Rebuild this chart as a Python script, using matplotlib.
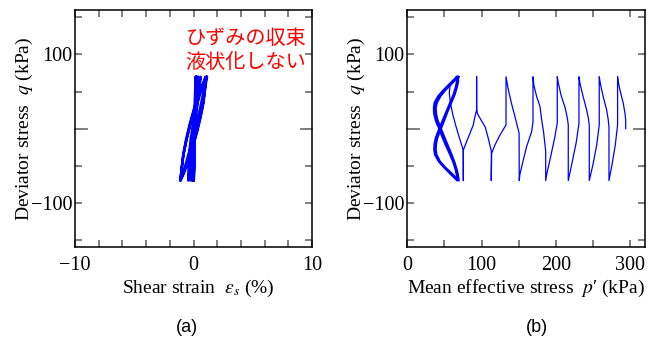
import numpy as np
import matplotlib.pyplot as plt

plt.rcParams['font.family'] = ['Liberation Serif', 'DejaVu Serif']
plt.rcParams['mathtext.fontset'] = 'stix'

# ---- panel (a): shear strain (%) vs deviator stress (kPa)
eps_a = [0.0, 0.1, 0.18,
         0.12, 0.03, 0.1, 0.2,
         0.14, 0.02, 0.1, 0.22,
         0.14, 0.0, 0.1, 0.25,
         0.12, -0.05, 0.06, 0.3,
         0.12, -0.12, 0.0, 0.4,
         0.1, -0.25, -0.05, 0.6,
         0.1, -0.45,
         -0.4, -0.25, 0.0, 0.35, 0.7, 1.0,
         0.9, 0.65, 0.35, 0.0, -0.35, -0.7, -0.95, -1.1,
         -1.0, -0.85, -0.6, -0.3, 0.05, 0.45, 0.8, 1.13,
         1.0, 0.85, 0.6, 0.3, -0.05, -0.45, -0.8, -1.1,
         -1.02, -0.88, -0.64, -0.34, 0.0, 0.4, 0.76, 1.1,
         0.98, 0.82, 0.56, 0.26, -0.1, -0.5, -0.84, -1.12,
         -1.0, -0.84, -0.58, -0.27, 0.08, 0.48, 0.82, 1.13]
q_a = [0, 35, 70,
       0, -70, 0, 70,
       0, -70, 0, 70,
       0, -70, 0, 70,
       0, -70, 0, 70,
       0, -70, 0, 70,
       0, -70, 0, 70,
       0, -70,
       -40, -15, 10, 35, 55, 70,
       55, 35, 12, -10, -30, -50, -62, -70,
       -55, -35, -15, 5, 25, 45, 60, 70,
       55, 35, 15, -5, -25, -45, -60, -70,
       -55, -35, -15, 5, 25, 45, 60, 70,
       55, 35, 15, -5, -25, -45, -60, -70,
       -55, -35, -15, 5, 25, 45, 60, 70]

# ---- panel (b): effective stress path, before the butterfly loops
p_path = [294.0, 294.0, 293.0, 290.8, 286.3, 283.8, 283.1,
          283.1, 280.0, 275.5, 271.5,
          271.5, 270.5, 268.4, 263.8, 260.0, 258.4,
          258.4, 255.0, 250.0, 245.0,
          245.0, 243.8, 241.0, 236.5, 232.5, 231.1,
          231.1, 227.5, 222.0, 216.7,
          216.7, 215.5, 212.5, 207.0, 203.2, 201.9,
          201.9, 198.5, 192.5, 188.0, 186.3,
          186.3, 183.5, 180.9, 178.6, 174.2, 170.5, 169.2,
          169.2, 167.4, 160.7, 155.5, 151.5, 150.7,
          150.5, 147.5, 145.0, 140.0, 135.5, 132.9,
          132.9, 124.8, 118.0, 113.6, 113.0,
          113.2, 109.5, 105.0, 98.5, 94.5, 93.3, 93.3,
          93.3, 91.0, 88.8, 84.5, 80.0, 75.4, 75.4,
          75.4, 70.0, 65.0, 61.0, 58.0, 56.5, 57.5, 62.0, 67.0]
q_path = [0, 12, 21, 34, 52, 64, 70,
          5, -22, -49, -70,
          2, 12, 25, 43, 60, 70,
          5, -22, -48, -70,
          4, 14, 27, 44, 61, 70,
          7, -18, -45, -70,
          5, 14, 28, 45, 62, 70,
          8, -12, -40, -60, -70,
          -30, -5, 12, 30, 43, 58, 70,
          9.5, -4, -24, -45, -62, -70,
          -6, 6, 16, 35, 55, 70,
          5, -8.5, -22, -33, -70,
          -31, -15, 2, 13, 20, 27, 70,
          25, 16, 5, -6, -17, -29, -70,
          -29, -12, 5, 20, 35, 48, 58, 65, 70]

# ---- panel (b): butterfly loops (cyclic mobility)
q_loop = [70, 66, 59, 52, 44, 35, 28, 20, 13, 6, 0, -10, -22, -34, -46, -56, -63, -70,
          -66, -59, -52, -44, -35, -28, -20, -13, -6, 0, 10, 22, 34, 46, 56, 63, 70]
p_loop_a = [68, 64, 57, 50, 43, 38, 37, 37.5, 39, 41.5, 44, 48, 53, 58, 63, 66, 67.5, 68,
            64, 57, 50, 43, 38, 37, 37.5, 39, 41.5, 44, 48, 53, 58, 63, 66, 67.5, 68]
p_loop_b = [69, 65, 58.5, 51.5, 45, 40, 38.5, 39, 40.5, 43, 45.5, 49.5, 54.5, 59.5, 64, 67, 68.5, 69.5,
            65.5, 58.5, 51, 44, 39.5, 38.5, 39, 40.5, 43, 45.5, 49.5, 54, 59, 64, 67, 68.5, 69]
p_loop_c = [66.5, 62.5, 55.5, 48.5, 41.5, 36.5, 35.5, 36, 37.5, 40, 43, 46.5, 51.5, 57, 62, 65, 66.5, 67,
            63, 56, 49, 42, 37, 36, 36.5, 38, 40.5, 43, 47, 52, 57, 62, 65, 66.5, 66.5]

# ticks
xt_a = [-10, -8, -6, -4, -2, 0, 2, 4, 6, 8, 10]
xl_a = ['\u221210', '', '', '', '', '0', '', '', '', '', '10']
xt_b = [0, 50, 100, 150, 200, 250, 300]
xl_b = ['0', '', '100', '', '200', '', '300']
yt = [-150, -100, -50, 0, 50, 100, 150]
yl = ['', '\u2212100', '', '', '', '100', '']

blue = '#0000ff'
tick_col = '#7f7f7f'

fig = plt.figure(figsize=(6.64, 3.4), dpi=100)
ax1 = fig.add_axes([75/664, 1-247.3/340, 237/664, 237.3/340])
ax2 = fig.add_axes([407.3/664, 1-247.3/340, 237.7/664, 237.3/340])

ax1.plot(eps_a, q_a, color=blue, lw=1.7)
ax2.plot(p_path, q_path, color=blue, lw=0.9)
for pl in (p_loop_a, p_loop_b, p_loop_c):
    ax2.plot(pl, q_loop, color=blue, lw=1.3)

ax1.set_xlim(-10, 10)
ax2.set_xlim(0, 320)
ax1.set_xticks(xt_a)
ax1.set_xticklabels(xl_a)
ax2.set_xticks(xt_b)
ax2.set_xticklabels(xl_b)

for ax in (ax1, ax2):
    ax.set_ylim(-160, 160)
    ax.set_yticks(yt)
    ax.set_yticklabels(yl)
    ax.tick_params(direction='in', top=True, right=True, length=5, width=1.4,
                   color=tick_col, labelsize=14.5)
    ax.tick_params(axis='x', pad=6)
    ax.tick_params(axis='y', pad=2)
    for s in ax.spines.values():
        s.set_linewidth(1.1)
    # longer tick at q = 0
    ax.plot([0, 0.05], [0, 0], transform=ax.get_yaxis_transform(), color=tick_col,
            lw=1.4, clip_on=False)
    ax.plot([0.955, 1], [0, 0], transform=ax.get_yaxis_transform(), color=tick_col,
            lw=1.4, clip_on=False)
    ax.set_ylabel('Deviator stress  $q$ (kPa)', fontsize=14)
    ax.yaxis.set_label_coords(-0.17, 0.5)

ax1.set_xlabel('Shear strain  $\\varepsilon_s$ (%)', fontsize=14)
ax2.set_xlabel('Mean effective stress  $p$\u2032 (kPa)', fontsize=14)
ax1.xaxis.set_label_coords(0.52, -0.13)
ax2.xaxis.set_label_coords(0.5, -0.13)

ax1.text(0.975, 0.882, 'ひずみの収束', transform=ax1.transAxes, ha='right', va='center',
         color='#ff0000', fontsize=14.5, family=['Noto Sans CJK JP'])
ax1.text(0.975, 0.777, '液状化しない', transform=ax1.transAxes, ha='right', va='center',
         color='#ff0000', fontsize=14.5, family=['Noto Sans CJK JP'])

fig.text(187/664, 1-328/340, '(a)', ha='center', va='center', fontsize=13,
         family=['Liberation Sans'])
fig.text(537/664, 1-328/340, '(b)', ha='center', va='center', fontsize=13,
         family=['Liberation Sans'])

fig.savefig('out.png', dpi=100)
